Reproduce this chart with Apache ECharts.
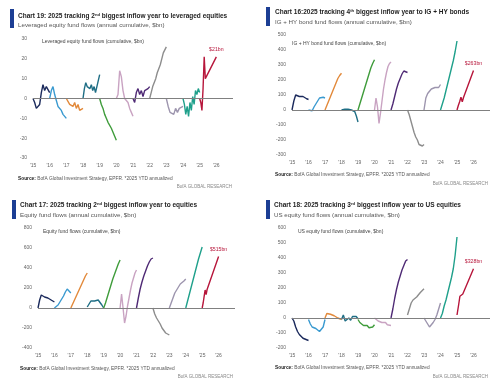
<!DOCTYPE html>
<html><head><meta charset="utf-8">
<script src="https://cdn.jsdelivr.net/npm/echarts@6/dist/echarts.min.js"></script>
<style>html,body{margin:0;padding:0;background:#fff}#c{width:500px;height:382px}</style>
</head><body><div id="c"></div>
<script>
// ---------- DATA ----------
const years = [2015, 2016, 2017, 2018, 2019, 2020, 2021, 2022, 2023, 2024];
const tickYears = ["'15","'16","'17","'18","'19","'20","'21","'22","'23","'24","'25","'26"];

// Leveraged equity fund flows (cumulative, $bn), one list per year
const levFlows = [
  [0, -2, -5, -6, -3, 3, 7, 4, 6, 5, 3],
  [0, 4, 6, 2, -1, -4, -3, -6, -8, -7, -10],
  [0, -1, -3, -2, -4, -2, -5, -3, -6, -7, -5],
  [0, 5, 8, 6, 7, 5, 7, 4, 6, 3, 2, 9, 12],
  [0, -3, -5, -8, -10, -12, -13, -15, -17, -19, -21],
  [0, 2, 14, 11, 4, 0, 0, -2, -5, -7, -9],
  [0, -2, 3, 5, 2, 4, 1, 4, 3, 5, 6],
  [0, 3, 6, 5, 10, 13, 12, 17, 20, 23, 22, 26],
  [0, -4, -7, -6, -8, -5, -7, -5, -6, -4],
  [0, -3, -8, -4, -9, -2, -6, 1, -3, 4, 2, 5, 3]
];
const levYtd2025 = [0, -2, -6, 5, 21, 10];
const levAnnualized2025 = 21;

// IG + HY bond fund flows (cumulative, $bn)
const bondFlows = [
  [0, 60, 100, 95, 90, 85, 90, 80, 75, 70],
  [0, -10, -5, 20, 40, 60, 80, 90, 85, 80],
  [0, 30, 60, 90, 120, 150, 180, 210, 230, 245],
  [0, 10, 5, 10, 5, 8, 0, 5, -10, -40, -80],
  [0, 40, 80, 120, 160, 200, 240, 280, 310, 335],
  [0, 80, 20, -90, -20, 60, 140, 200, 250, 290, 310, 320],
  [0, 40, 90, 140, 180, 210, 240, 260, 265, 250],
  [0, -30, -70, -110, -150, -180, -200, -230, -220, -240, -230],
  [0, 80, 110, 120, 140, 130, 150, 160, 150, 170],
  [0, 40, 80, 130, 180, 230, 280, 330, 390, 460]
];
const bondYtd2025 = [0, 30, 55, 85, 55, 85];
const bondAnnualized2025 = 263;

// Equity fund flows (cumulative, $bn)
const eqFlows = [
  [0, 80, 130, 120, 110, 115, 100, 90, 80, 70, 60],
  [0, 5, 30, 60, 90, 120, 160, 190, 170, 150],
  [0, 40, 80, 120, 160, 200, 240, 280, 320, 350],
  [10, 40, 70, 60, 70, 85, 80, 60, 30, 0],
  [0, 50, 110, 170, 230, 290, 340, 390, 440, 480],
  [0, 140, 0, -150, -80, 20, 100, 180, 250, 300, 350, 380],
  [0, 100, 190, 260, 320, 370, 420, 460, 490, 500],
  [0, -60, -100, -130, -160, -200, -220, -250, -260, -270],
  [0, 50, 100, 150, 180, 210, 240, 260, 270, 290],
  [0, 70, 140, 210, 280, 350, 420, 490, 550, 610]
];
const eqYtd2025 = [0, 50, 117, 180, 135, 185];
const eqAnnualized2025 = 515;

// US equity fund flows (cumulative, $bn)
const usFlows = [
  [0, -20, -60, -90, -110, -120, -135, -130, -145, -150],
  [-10, -40, -60, -50, -70, -80, -90, -75, -60, -10],
  [0, 30, 40, 25, 30, 15, 10, 0, -5, -10],
  [-10, 20, -20, -30, 0, -15, 10, 0, 10, -5],
  [-10, -30, -40, -50, -60, -50, -65, -55, -60, -45],
  [0, -10, -20, -15, -30, -35, -30, -45, -40, -50],
  [0, 60, 130, 190, 240, 280, 320, 350, 380, 390],
  [20, 60, 100, 120, 110, 140, 150, 170, 180, 195],
  [0, -20, -40, -60, -50, -30, -10, 20, 60, 100],
  [0, 30, 80, 120, 170, 220, 270, 330, 420, 540]
];
const usYtd2025 = [20, 80, 145, 135, 160, 155];
const usAnnualized2025 = 328;

// ---------- STYLE / LAYOUT ----------
const yearColors = ['#1b2a5c','#3a9ad0','#e2893a','#1f6e85','#3f9c3b','#c9a3c2','#4f2a75','#8d8d8d','#9d95ae','#1fa08b','#b7163b'];
const FONT = '"Liberation Sans", Arial, sans-serif';

const panels = [
  { flows: levFlows, ytd: levYtd2025, ann: levAnnualized2025, frac: 0.34,
    grid: {left: 33, top: 39, width: 200, height: 119}, y: {min: -30, max: 30, interval: 10},
    bar: [10, 9, 4, 19],
    title: 'Chart 19: 2025 tracking 2{s|nd} biggest inflow year to leveraged equities', tx: 18, ty: 16,
    sub: 'Leveraged equity fund flows (annual cumulative, $bn)', sy: 25.5,
    inner: 'Leveraged equity fund flows (cumulative, $bn)', ix: 42, iy: 42,
    src: [18, 179], res: [232, 187] },
  { flows: bondFlows, ytd: bondYtd2025, ann: bondAnnualized2025, frac: 0.4,
    grid: {left: 292, top: 35, width: 198, height: 120}, y: {min: -300, max: 500, interval: 100},
    bar: [266, 7, 4, 19],
    title: 'Chart 16:2025 tracking 4{s|th} biggest inflow year to IG + HY bonds', tx: 275, ty: 12.5,
    sub: 'IG + HY bond fund flows (annual cumulative, $bn)', sy: 22.5,
    inner: 'IG + HY bond fund flows (cumulative, $bn)', ix: 292, iy: 43.5,
    src: [275, 175], res: [488, 184] },
  { flows: eqFlows, ytd: eqYtd2025, ann: eqAnnualized2025, frac: 0.3,
    grid: {left: 38, top: 228, width: 197, height: 120}, y: {min: -400, max: 800, interval: 200},
    bar: [12, 200, 4, 19],
    title: 'Chart 17: 2025 tracking 2{s|nd} biggest inflow year to equities', tx: 20, ty: 205,
    sub: 'Equity fund flows (annual cumulative, $bn)', sy: 215,
    inner: 'Equity fund flows (cumulative, $bn)', ix: 43, iy: 232,
    src: [20, 369], res: [233, 377] },
  { flows: usFlows, ytd: usYtd2025, ann: usAnnualized2025, frac: 0.44,
    grid: {left: 292, top: 228, width: 198, height: 120}, y: {min: -200, max: 600, interval: 100},
    bar: [266, 200, 4, 19],
    title: 'Chart 18: 2025 tracking 3{s|rd} biggest inflow year to US equities', tx: 274, ty: 205,
    sub: 'US equity fund flows (annual cumulative, $bn)', sy: 215,
    inner: 'US equity fund flows (cumulative, $bn)', ix: 298, iy: 232,
    src: [275, 368], res: [488, 377] }
];

const grids = [], xAxes = [], yAxes = [], series = [], graphics = [];

panels.forEach((p, k) => {
  grids.push(Object.assign({containLabel: false}, p.grid));
  xAxes.push({
    type: 'value', gridIndex: k, min: 2015, max: 2027, interval: 1,
    axisLine: {show: false}, axisTick: {show: false}, splitLine: {show: false},
    axisLabel: {fontSize: 5, color: '#666', fontFamily: FONT, margin: 5,
      formatter: v => (v >= 2015 && v <= 2026) ? tickYears[v - 2015] : ''}
  });
  yAxes.push({
    type: 'value', gridIndex: k, min: p.y.min, max: p.y.max, interval: p.y.interval,
    axisLine: {show: false}, axisTick: {show: false}, splitLine: {show: false},
    axisLabel: {fontSize: 5, color: '#666', fontFamily: FONT, margin: 6}
  });
  p.flows.forEach((vals, j) => {
    const s = {
      type: 'line', xAxisIndex: k, yAxisIndex: k, symbol: 'none', showSymbol: false,
      silent: true, animation: false,
      lineStyle: {color: yearColors[j], width: 1.4}, itemStyle: {color: yearColors[j]},
      data: vals.map((v, i, a) => [years[j] + i / (a.length - 1), v])
    };
    if (j === 0) {
      s.markLine = {silent: true, symbol: 'none', animation: false, label: {show: false},
        lineStyle: {color: '#808080', width: 1, type: 'solid'}, data: [{yAxis: 0}]};
    }
    series.push(s);
  });
  const c25 = yearColors[10];
  const d25 = p.ytd.map((v, i, a) => [2025 + p.frac * i / (a.length - 1), v]);
  d25.push([2026, p.ann]);
  series.push({
    type: 'line', xAxisIndex: k, yAxisIndex: k, symbol: 'none', showSymbol: false,
    silent: true, animation: false, z: 3,
    lineStyle: {color: c25, width: 1.4}, itemStyle: {color: c25},
    data: d25,
    markPoint: {symbol: 'circle', symbolSize: 1, animation: false, itemStyle: {color: 'rgba(0,0,0,0)'},
      label: {show: true, position: 'top', distance: 4, color: c25, fontSize: 5.2, fontFamily: FONT,
        formatter: '$' + p.ann + 'bn'},
      data: [{coord: [2026, p.ann]}]}
  });

  graphics.push({type: 'rect', shape: {x: p.bar[0], y: p.bar[1], width: p.bar[2], height: p.bar[3]},
    style: {fill: '#1c3e94'}, silent: true});
  graphics.push({type: 'text', x: p.tx, y: p.ty, silent: true, style: {
    text: p.title, fill: '#1e1e1e', fontSize: 6.5, fontWeight: 'bold', fontFamily: FONT,
    align: 'left', verticalAlign: 'middle',
    rich: {s: {fontSize: 4.2, fontWeight: 'bold', fontFamily: FONT, fill: '#1e1e1e', verticalAlign: 'top'}}}});
  graphics.push({type: 'text', x: p.tx, y: p.sy, silent: true, style: {
    text: p.sub, fill: '#555', fontSize: 6.2, fontFamily: FONT, align: 'left', verticalAlign: 'middle'}});
  graphics.push({type: 'text', x: p.ix, y: p.iy, silent: true, style: {
    text: p.inner, fill: '#444', fontSize: 5, fontFamily: FONT, align: 'left', verticalAlign: 'middle'}});
  graphics.push({type: 'text', x: p.src[0], y: p.src[1], silent: true, style: {
    text: '{b|Source:} BofA Global Investment Strategy, EPFR. *2025 YTD annualized',
    fill: '#555', fontSize: 4.8, fontFamily: FONT, align: 'left', verticalAlign: 'middle',
    rich: {b: {fontWeight: 'bold', fontSize: 4.8, fontFamily: FONT, fill: '#222'}}}});
  graphics.push({type: 'text', x: p.res[0], y: p.res[1], silent: true, style: {
    text: 'BofA GLOBAL RESEARCH', fill: '#888', fontSize: 4.5, fontFamily: FONT,
    align: 'right', verticalAlign: 'middle'}});
});

const chart = echarts.init(document.getElementById('c'), null, {renderer: 'canvas'});
chart.setOption({
  animation: false,
  backgroundColor: '#fff',
  grid: grids, xAxis: xAxes, yAxis: yAxes, series: series,
  graphic: graphics
});
</script></body></html>
